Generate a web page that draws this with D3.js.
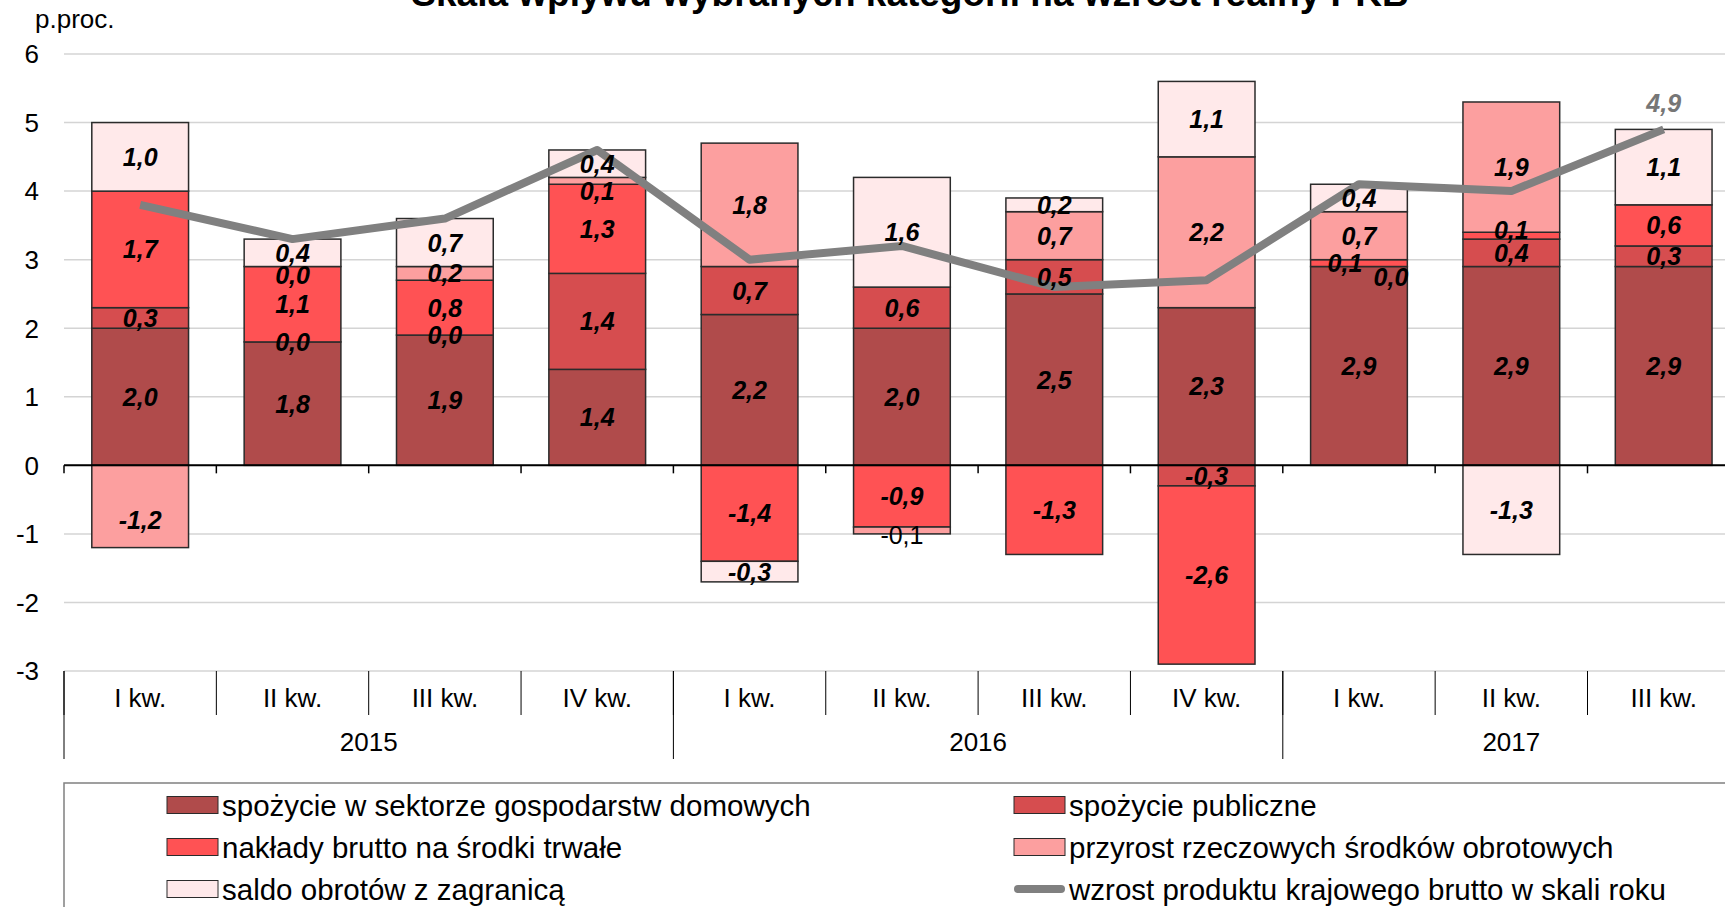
<!DOCTYPE html>
<html>
<head>
<meta charset="utf-8">
<script src="https://cdn.jsdelivr.net/npm/d3@7"></script>
<style>
  body { margin: 0; background: #fff; }
  svg { display: block; font-family: "Liberation Sans", Arial, sans-serif; }
</style>
</head>
<body>
<svg id="chart" width="1725" height="907"></svg>
<script>
// quarters and years
var categories = ["I kw.", "II kw.", "III kw.", "IV kw.", "I kw.", "II kw.", "III kw.", "IV kw.", "I kw.", "II kw.", "III kw."];
var years = ["2015", "2016", "2017"];
var quartersPerYear = [4, 4, 3];

// contributions, p.proc.
var households = [2.0, 1.8, 1.9, 1.4, 2.2, 2.0, 2.5, 2.3, 2.9, 2.9, 2.9];
var publicCons = [0.3, 0.0, 0.0, 1.4, 0.7, 0.6, 0.5, -0.3, 0.0, 0.4, 0.3];
var investment = [1.7, 1.1, 0.8, 1.3, -1.4, -0.9, -1.3, -2.6, 0.1, 0.1, 0.6];
var inventories = [-1.2, 0.0, 0.2, 0.1, 1.8, -0.1, 0.7, 2.2, 0.7, 1.9, null];
var netExports = [1.0, 0.4, 0.7, 0.4, -0.3, 1.6, 0.2, 1.1, 0.4, -1.3, 1.1];
var gdpGrowth = [3.8, 3.3, 3.6, 4.6, 3.0, 3.2, 2.6, 2.7, 4.1, 4.0, 4.9];

var yTicks = [-3, -2, -1, 0, 1, 2, 3, 4, 5, 6];

var seriesNames = [
  "spożycie w sektorze gospodarstw domowych",
  "spożycie publiczne",
  "nakłady brutto na środki trwałe",
  "przyrost rzeczowych środków obrotowych",
  "saldo obrotów z zagranicą"
];
var lineName = "wzrost produktu krajowego brutto w skali roku";
var titleText = "Skala wpływu wybranych kategorii na wzrost realny PKB";

var colors = ["#B04B4B", "#D64D4F", "#FF5254", "#FC9F9F", "#FFE9EA"];

document.addEventListener("DOMContentLoaded", function(event) {
  var svg = d3.select("#chart");
  var series = [households, publicCons, investment, inventories, netExports];
  var fmt = function(v) { return v.toFixed(1).replace(".", ","); };

  var left = 64, cellW = 152.35;
  var idx = d3.range(categories.length);

  // cells and bars
  var xCell = d3.scaleBand().domain(idx).range([left, left + cellW * idx.length]);
  var x = d3.scaleBand().domain(idx).range([left, left + cellW * idx.length])
    .paddingInner(0.365).paddingOuter(0.1825);

  var y = d3.scaleLinear().domain([-3, 6]).range([671, 54]);

  // gridlines
  svg.append("g").selectAll("line")
    .data(yTicks)
    .enter().append("line")
    .attr("x1", left).attr("x2", 1725)
    .attr("y1", function(d) { return y(d); })
    .attr("y2", function(d) { return y(d); })
    .attr("stroke", "#d4d4d4")
    .attr("stroke-width", 1.5);

  // Y axis labels
  svg.append("g").selectAll("text")
    .data(yTicks)
    .enter().append("text")
    .attr("x", 39)
    .attr("y", function(d) { return y(d); })
    .attr("dy", "0.36em")
    .attr("text-anchor", "end")
    .style("font-size", "26px")
    .text(function(d) { return d; });

  svg.append("text")
    .attr("x", 35).attr("y", 28)
    .style("font-size", "26px")
    .text("p.proc.");

  // stack: positives up, negatives down
  var segs = [];
  idx.forEach(function(j) {
    var yp = 0, yn = 0;
    series.forEach(function(s, i) {
      var v = s[j];
      if (v === null) return;
      var y0, y1;
      if (v >= 0) { y0 = yp; y1 = yp += v; } else { y1 = yn; y0 = yn += v; }
      segs.push({ s: i, j: j, v: v, y0: y0, y1: y1 });
    });
  });

  svg.append("g").selectAll("rect")
    .data(segs)
    .enter().append("rect")
    .attr("x", function(d) { return x(d.j); })
    .attr("width", x.bandwidth())
    .attr("y", function(d) { return y(d.y1); })
    .attr("height", function(d) { return y(d.y0) - y(d.y1); })
    .attr("fill", function(d) { return colors[d.s]; })
    .attr("stroke", "#2b2b2b")
    .attr("stroke-width", 1.5);

  // zero line with ticks
  svg.append("line")
    .attr("x1", left).attr("x2", 1725)
    .attr("y1", y(0)).attr("y2", y(0))
    .attr("stroke", "#000").attr("stroke-width", 2);
  svg.append("g").selectAll("line")
    .data(idx)
    .enter().append("line")
    .attr("x1", function(d) { return xCell(d); })
    .attr("x2", function(d) { return xCell(d); })
    .attr("y1", y(0)).attr("y2", y(0) + 8)
    .attr("stroke", "#000").attr("stroke-width", 1.5);

  // GDP line
  svg.append("path")
    .datum(gdpGrowth)
    .attr("fill", "none")
    .attr("stroke", "#808080")
    .attr("stroke-width", 8)
    .attr("stroke-linejoin", "round")
    .attr("d", d3.line()
      .x(function(d, i) { return x(i) + x.bandwidth() / 2; })
      .y(function(d) { return y(d); }));

  // segment labels (small manual nudges as in the original)
  var tweaks = {
    "1-8": { dx: 32, dy: 10 },
    "2-8": { dx: -14 },
    "3-0": { dy: 14 },
    "3-1": { dy: 8 },
    "3-3": { dy: 10 },
    "2-9": { dy: -6 },
    "3-5": { dy: 5, plain: true }
  };
  function tw(d) { return tweaks[d.s + "-" + d.j] || {}; }
  svg.append("g").selectAll("text")
    .data(segs)
    .enter().append("text")
    .attr("x", function(d) { return x(d.j) + x.bandwidth() / 2 + (tw(d).dx || 0); })
    .attr("y", function(d) { return y((d.y0 + d.y1) / 2) + (tw(d).dy || 0); })
    .attr("dy", "0.36em")
    .attr("text-anchor", "middle")
    .style("font-size", "25px")
    .style("font-weight", function(d) { return tw(d).plain ? "normal" : "bold"; })
    .style("font-style", function(d) { return tw(d).plain ? "normal" : "italic"; })
    .text(function(d) { return fmt(d.v); });

  // last GDP value
  var last = gdpGrowth.length - 1;
  svg.append("text")
    .attr("x", x(last) + x.bandwidth() / 2)
    .attr("y", y(gdpGrowth[last]) - 17)
    .attr("text-anchor", "middle")
    .style("font-size", "25px")
    .style("font-weight", "bold")
    .style("font-style", "italic")
    .attr("fill", "#767676")
    .text(fmt(gdpGrowth[last]));

  // X axis: quarters
  var xAxis = svg.append("g");
  xAxis.selectAll("line.q")
    .data(idx)
    .enter().append("line")
    .attr("x1", function(d) { return xCell(d); })
    .attr("x2", function(d) { return xCell(d); })
    .attr("y1", y(-3)).attr("y2", 715)
    .attr("stroke", "#000").attr("stroke-width", 1);
  xAxis.selectAll("text.q")
    .data(idx)
    .enter().append("text")
    .attr("x", function(d) { return xCell(d) + xCell.bandwidth() / 2; })
    .attr("y", 707)
    .attr("text-anchor", "middle")
    .style("font-size", "26px")
    .text(function(d) { return categories[d]; });

  // X axis: years
  var start = 0;
  years.forEach(function(yr, k) {
    var a = xCell(start), b = xCell(start + quartersPerYear[k] - 1) + xCell.bandwidth();
    xAxis.append("line")
      .attr("x1", a).attr("x2", a)
      .attr("y1", y(-3)).attr("y2", 759)
      .attr("stroke", "#000").attr("stroke-width", 1);
    xAxis.append("text")
      .attr("x", (a + b) / 2).attr("y", 751)
      .attr("text-anchor", "middle")
      .style("font-size", "26px")
      .text(yr);
    start += quartersPerYear[k];
  });

  // title (cut at top)
  svg.append("text")
    .attr("x", 910).attr("y", 6)
    .attr("text-anchor", "middle")
    .style("font-size", "37px")
    .style("font-weight", "bold")
    .text(titleText);

  // legend
  svg.append("rect")
    .attr("x", left).attr("y", 783)
    .attr("width", 1725).attr("height", 200)
    .attr("fill", "none")
    .attr("stroke", "#808080")
    .attr("stroke-width", 1.5);

  var legendItems = [
    { name: seriesNames[0], color: colors[0], col: 0, row: 0 },
    { name: seriesNames[2], color: colors[2], col: 0, row: 1 },
    { name: seriesNames[4], color: colors[4], col: 0, row: 2 },
    { name: seriesNames[1], color: colors[1], col: 1, row: 0 },
    { name: seriesNames[3], color: colors[3], col: 1, row: 1 },
    { name: lineName, line: true, col: 1, row: 2 }
  ];
  var colX = [167, 1014];
  var legend = svg.append("g").selectAll("g")
    .data(legendItems)
    .enter().append("g")
    .attr("transform", function(d) { return "translate(" + colX[d.col] + "," + (805 + d.row * 42) + ")"; });

  legend.filter(function(d) { return !d.line; })
    .append("rect")
    .attr("x", 0).attr("y", -8.5)
    .attr("width", 51).attr("height", 17)
    .attr("fill", function(d) { return d.color; })
    .attr("stroke", "#2b2b2b").attr("stroke-width", 1);
  legend.filter(function(d) { return d.line; })
    .append("line")
    .attr("x1", 4).attr("x2", 47)
    .attr("stroke", "#808080").attr("stroke-width", 8)
    .attr("stroke-linecap", "round");
  legend.append("text")
    .attr("x", 55).attr("dy", "0.36em")
    .style("font-size", "29.5px")
    .text(function(d) { return d.name; });
});
</script>
</body>
</html>
